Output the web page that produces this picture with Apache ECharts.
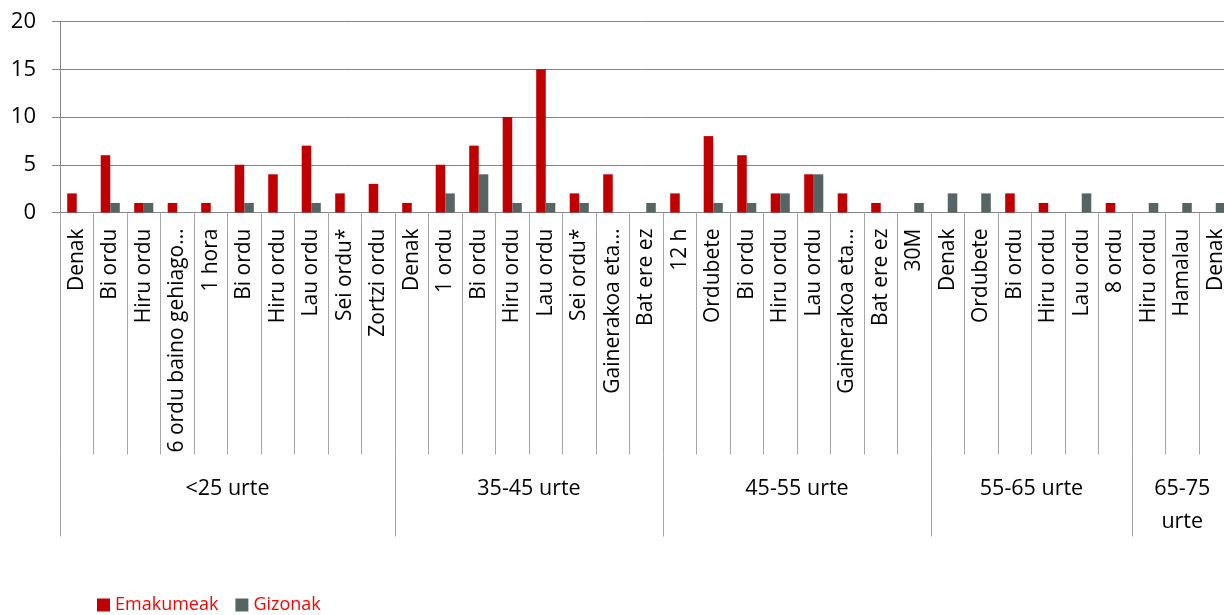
<!DOCTYPE html>
<html>
<head>
<meta charset="utf-8">
<style>
  html, body { margin: 0; padding: 0; background: #fff; }
  #chart { width: 1224px; height: 615px; }
</style>
<script src="https://cdn.jsdelivr.net/npm/echarts@6/dist/echarts.min.js"></script>
</head>
<body>
<div id="chart"></div>
<script>
const categories = [
  'Denak', 'Bi ordu', 'Hiru ordu', '6 ordu baino gehiago…', '1 hora', 'Bi ordu', 'Hiru ordu', 'Lau ordu', 'Sei ordu*', 'Zortzi ordu',
  'Denak', '1 ordu', 'Bi ordu', 'Hiru ordu', 'Lau ordu', 'Sei ordu*', 'Gainerakoa eta…', 'Bat ere ez',
  '12 h', 'Ordubete', 'Bi ordu', 'Hiru ordu', 'Lau ordu', 'Gainerakoa eta…', 'Bat ere ez', '30M',
  'Denak', 'Ordubete', 'Bi ordu', 'Hiru ordu', 'Lau ordu', '8 ordu',
  'Hiru ordu', 'Hamalau', 'Denak'
];
const groupNames = ['<25 urte', '35-45 urte', '45-55 urte', '55-65 urte', '65-75 urte'];
const groupSizes = [10, 8, 8, 6, 3];
const emakumeak = [
  2, 6, 1, 1, 1, 5, 4, 7, 2, 3,
  1, 5, 7, 10, 15, 2, 4, 0,
  2, 8, 6, 2, 4, 2, 1, 0,
  0, 0, 2, 1, 0, 1,
  0, 0, 0
];
const gizonak = [
  0, 1, 1, 0, 0, 1, 0, 1, 0, 0,
  0, 2, 4, 1, 1, 1, 0, 1,
  0, 1, 1, 2, 4, 0, 0, 1,
  2, 2, 0, 0, 2, 0,
  1, 1, 1
];
const yTicks = [0, 5, 10, 15, 20];

// Build group axis on half-category points (boundaryGap false)
const nHalf = categories.length * 2;
const groupAxisData = new Array(nHalf + 1).fill('');
const groupBoundaries = new Set([0]);
let acc = 0;
groupNames.forEach((g, i) => {
  const start = acc * 2;
  const end = (acc + groupSizes[i]) * 2;
  const center = (start + end) / 2;
  groupAxisData[center] = groupSizes[i] < 4 ? g.replace(' ', '\n') : g;
  groupBoundaries.add(end);
  acc += groupSizes[i];
});

const FONT = 'Open Sans';
const axisGray = '#868686';
const tickGray = '#a6a6a6';

const chart = echarts.init(document.getElementById('chart'));
chart.setOption({
  animation: false,
  textStyle: { fontFamily: FONT },
  legend: {
    left: 92,
    top: 591,
    itemWidth: 13,
    itemHeight: 13,
    itemGap: 17,
    icon: 'rect',
    textStyle: { color: '#ff0000', fontSize: 18, fontFamily: FONT },
    data: ['Emakumeak', 'Gizonak']
  },
  grid: { left: 60, top: 21.5, width: 1172.5, height: 191, outerBoundsMode: 'none', containLabel: false },
  xAxis: [
    {
      type: 'category',
      data: categories,
      position: 'bottom',
      axisLine: { show: true, lineStyle: { color: axisGray, width: 1 } },
      axisTick: { show: true, interval: 0, length: 242, lineStyle: { color: tickGray } },
      axisLabel: { interval: 0, rotate: 90, margin: 16, fontSize: 21, color: '#000', fontFamily: FONT }
    },
    {
      type: 'category',
      data: groupAxisData,
      boundaryGap: false,
      position: 'bottom',
      offset: 242,
      axisLine: { show: false },
      axisTick: {
        show: true,
        length: 82,
        interval: (idx) => groupBoundaries.has(idx),
        lineStyle: { color: tickGray }
      },
      axisLabel: {
        interval: (idx, val) => val !== '',
        margin: 18,
        fontSize: 21.5,
        lineHeight: 33,
        color: '#000',
        fontFamily: FONT
      }
    }
  ],
  yAxis: {
    type: 'value',
    min: yTicks[0],
    max: yTicks[yTicks.length - 1],
    interval: 5,
    axisLine: { show: true, lineStyle: { color: axisGray } },
    axisTick: { show: true, length: 8, lineStyle: { color: axisGray } },
    axisLabel: { fontSize: 22, color: '#000', margin: 24, fontFamily: FONT },
    splitLine: { show: true, lineStyle: { color: axisGray, width: 1 } }
  },
  series: [
    {
      name: 'Emakumeak',
      type: 'bar',
      xAxisIndex: 0,
      data: emakumeak,
      barGap: '0%',
      barCategoryGap: '43%',
      itemStyle: { color: '#c00000' }
    },
    {
      name: 'Gizonak',
      type: 'bar',
      xAxisIndex: 0,
      data: gizonak,
      barGap: '0%',
      barCategoryGap: '43%',
      itemStyle: { color: '#576464' }
    }
  ]
});
</script>
</body>
</html>
